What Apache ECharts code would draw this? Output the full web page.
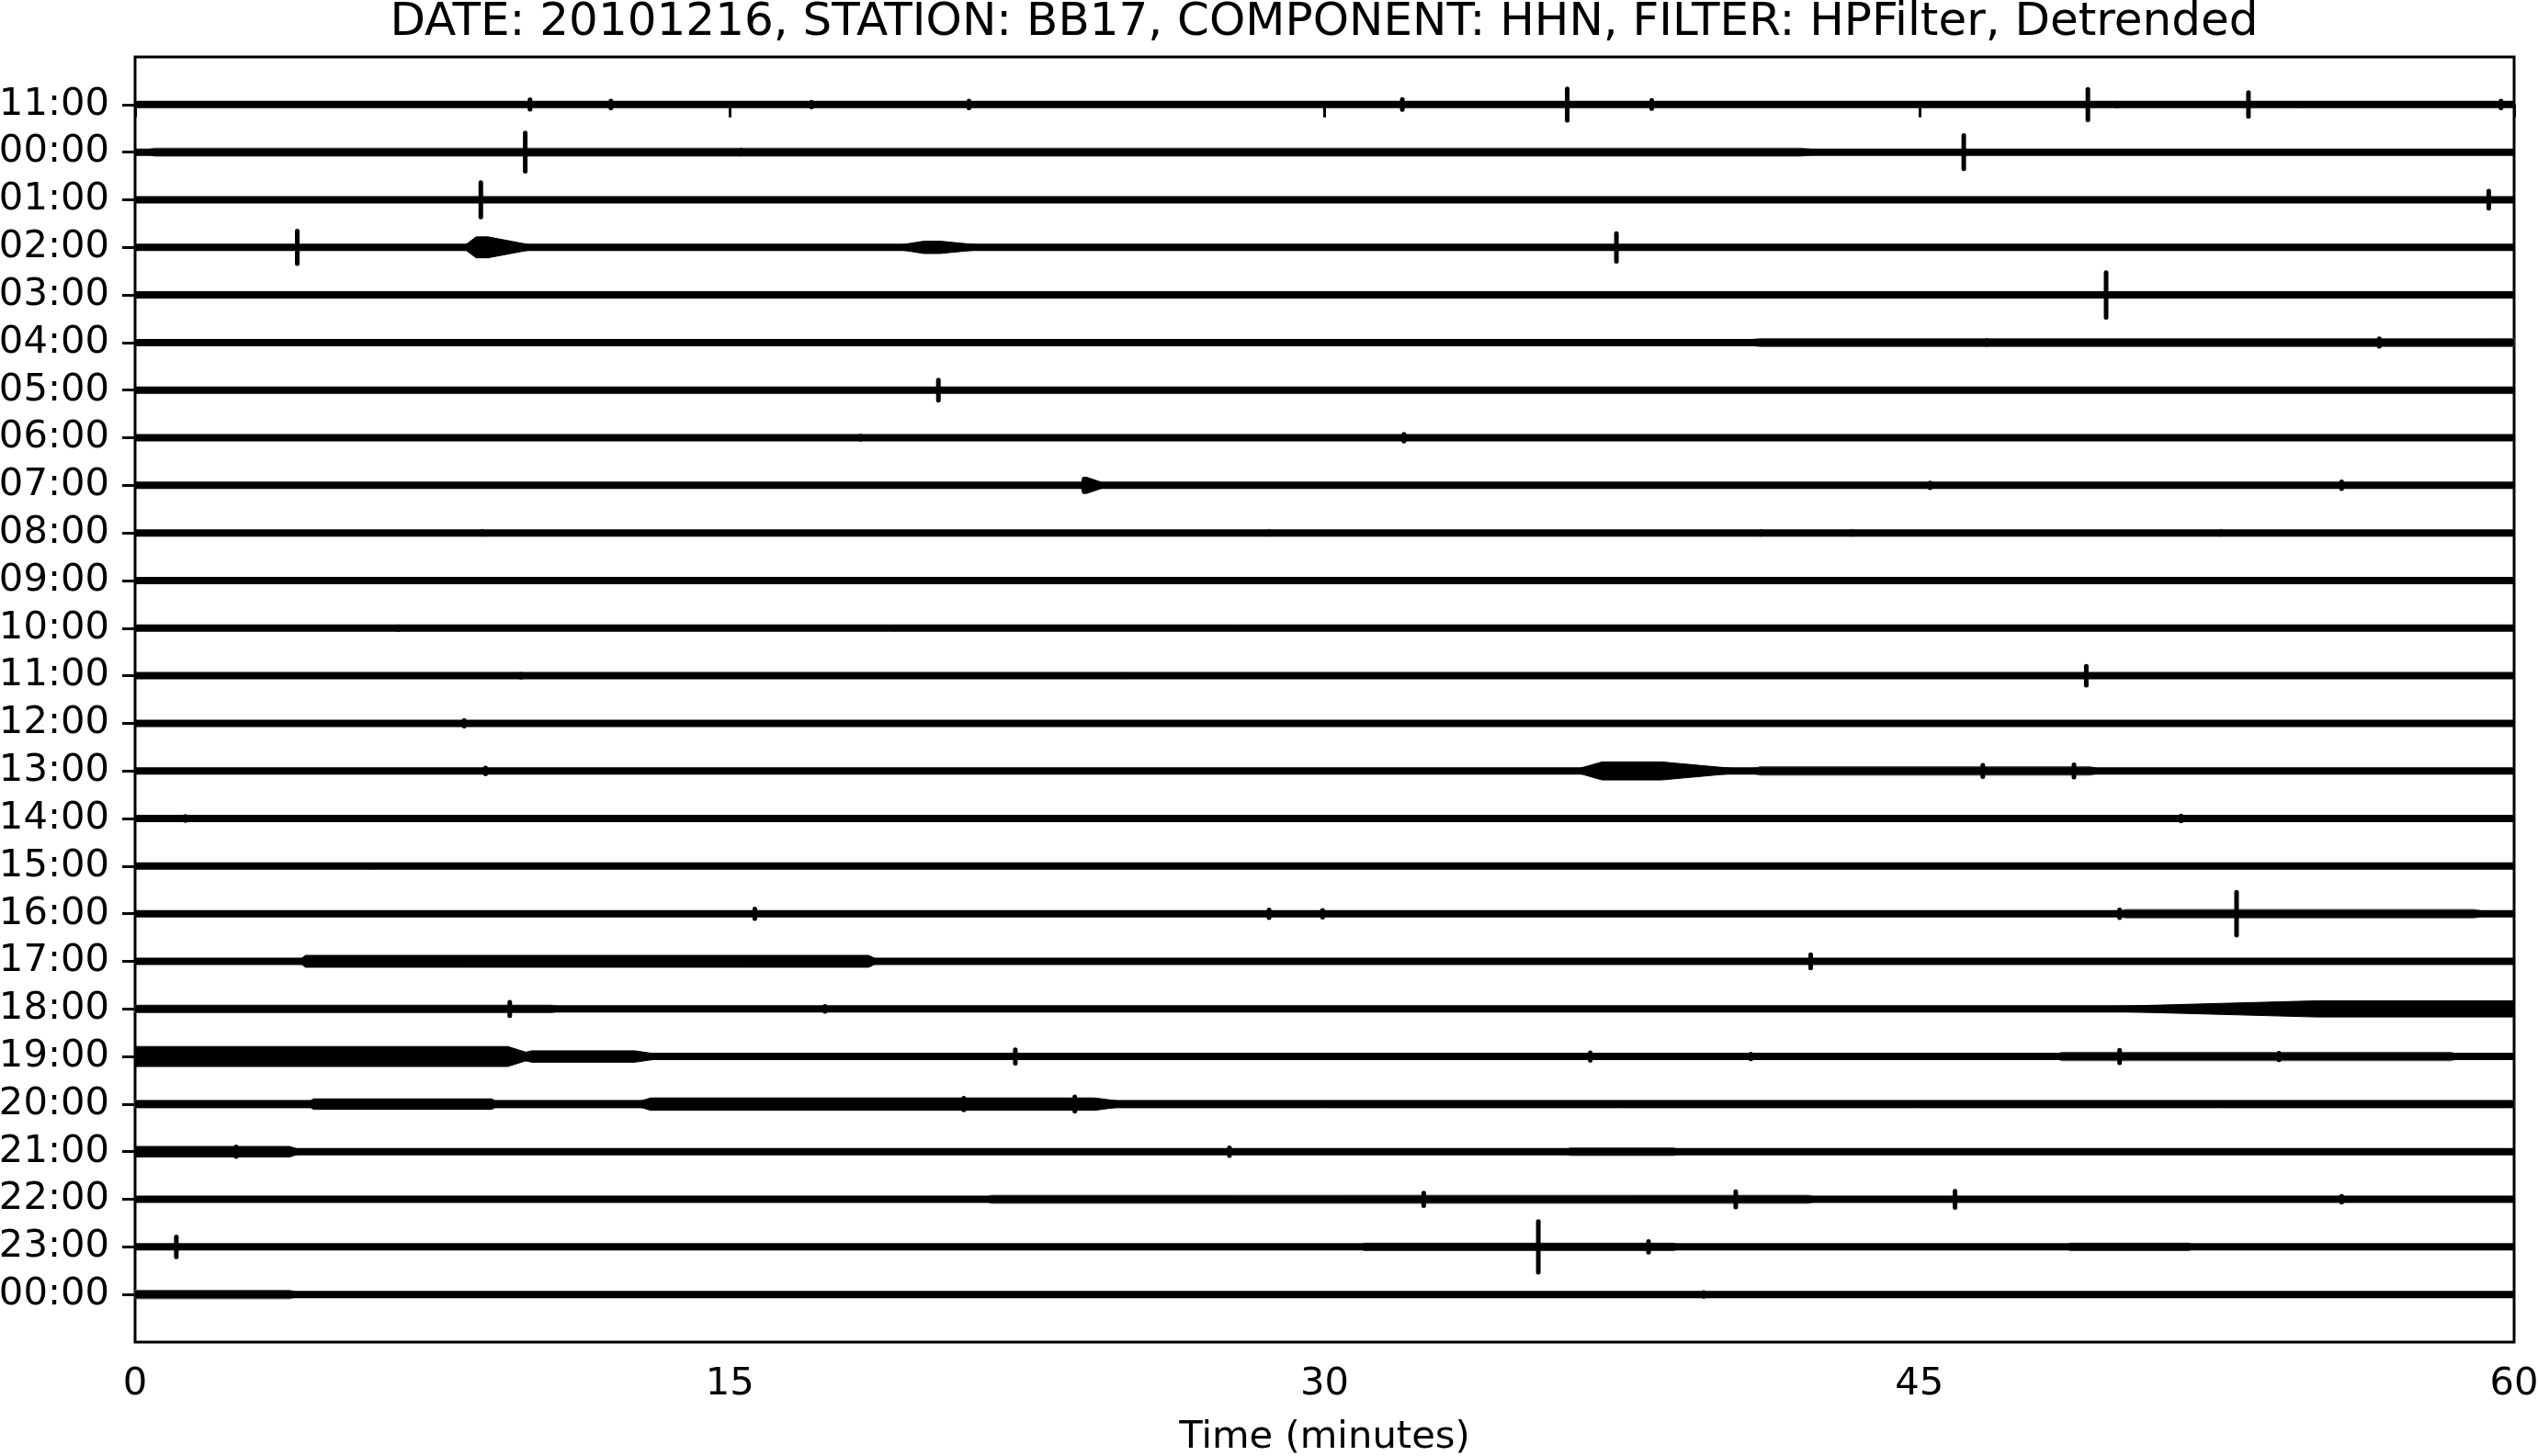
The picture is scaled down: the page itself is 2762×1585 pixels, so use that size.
<!DOCTYPE html>
<html>
<head>
<meta charset="utf-8">
<script src="https://cdn.jsdelivr.net/npm/echarts@6/dist/echarts.min.js"></script>
<style>
html,body{margin:0;padding:0;background:#fff;}
#chart{width:2762px;height:1585px;}
</style>
</head>
<body>
<div id="chart"></div>
<script>
// ---- data ----
const titleText = 'DATE: 20101216, STATION: BB17, COMPONENT: HHN, FILTER: HPFilter, Detrended';
const rowLabels = ['11:00','00:00','01:00','02:00','03:00','04:00','05:00','06:00','07:00','08:00','09:00','10:00','11:00','12:00','13:00','14:00','15:00','16:00','17:00','18:00','19:00','20:00','21:00','22:00','23:00','00:00'];
const xTicks = [0, 15, 30, 45, 60];
const xAxisName = 'Time (minutes)';
// spikes: [row, minute, half-amplitude (row units)]
const spikes = [
  [0,9.96,0.15],[0,12.0,0.12],[0,17.06,0.10],[0,21.03,0.12],[0,31.96,0.155],[0,36.12,0.38],[0,38.25,0.135],[0,49.25,0.37],[0,49.98,0.08],[0,53.3,0.30],[0,54.57,0.07],[0,59.67,0.12],
  [1,9.84,0.45],[1,46.12,0.40],[1,15.28,0.09],
  [2,8.72,0.41],[2,59.36,0.23],
  [3,4.09,0.39],[3,37.36,0.34],
  [4,49.71,0.52],
  [5,56.6,0.13],[5,46.7,0.09],
  [6,20.26,0.26],
  [7,32.0,0.12],[7,18.3,0.08],
  [8,45.27,0.10],[8,55.65,0.12],
  [9,8.76,0.08],[9,28.6,0.08],[9,41.0,0.08],[9,43.3,0.08],[9,52.6,0.08],
  [11,6.64,0.08],[11,19.14,0.07],[11,27.8,0.07],
  [12,49.21,0.25],[12,9.73,0.08],[12,24.9,0.07],
  [13,8.3,0.11],
  [14,46.6,0.17],[14,48.9,0.18],[14,8.84,0.11],
  [15,1.27,0.09],[15,51.6,0.10],
  [16,6.0,0.07],
  [17,15.63,0.15],[17,28.6,0.13],[17,29.95,0.12],[17,53.0,0.50],[17,50.05,0.13],
  [18,42.26,0.19],
  [19,9.45,0.19],[19,17.4,0.10],
  [20,22.2,0.19],[20,36.7,0.13],[20,50.05,0.18],[20,54.07,0.12],[20,40.75,0.10],
  [21,20.9,0.17],[21,23.7,0.20],
  [22,2.55,0.15],[22,27.6,0.13],
  [23,32.5,0.18],[23,40.37,0.21],[23,45.9,0.22],[23,55.65,0.11],
  [24,1.04,0.26],[24,35.39,0.58],[24,38.17,0.16],
  [25,39.56,0.09]
];
// noise envelopes: [row, start, rampEnd, decayStart, end, half-amplitude (row units)]
const bursts = [
  [1,0,0.5,42,43,0.085],
  [3,8.25,8.6,8.9,10.3,0.22],[3,18.9,19.9,20.3,21.9,0.13],
  [5,40,41,60,60,0.085],
  [8,23.85,23.9,24.0,24.6,0.17],
  [14,36.2,37.0,38.5,41.0,0.19],[14,40.5,41,49.3,49.8,0.09],
  [17,49.8,50.2,59,59.5,0.09],
  [18,4.1,4.3,18.5,18.8,0.125],
  [19,0,0,10.5,11,0.08],[19,47.5,55,60,60,0.17],
  [20,0,0,9.4,10.2,0.21],[20,9.4,10,12.6,13.6,0.12],[20,48.3,48.6,58.4,58.8,0.09],
  [21,0,0,60,60,0.08],[21,4.3,4.5,9.0,9.2,0.11],[21,12.5,13,24.2,25.4,0.13],
  [22,0,0,3.9,4.3,0.11],[22,35.9,36.2,38.8,39.1,0.08],
  [23,21.3,21.6,42.2,42.6,0.085],
  [24,30.8,31.0,38.8,39.1,0.08],[24,48.6,48.8,51.8,52.0,0.08],
  [25,0,0,3.9,4.3,0.09]
];

// ---- chart ----
const FONT = 'DejaVu Sans';
const rows = rowLabels.map((_, i) => i);
const chart = echarts.init(document.getElementById('chart'), null, {renderer: 'canvas'});

const option = {
  animation: false,
  backgroundColor: '#fff',
  title: {
    text: titleText,
    left: 1441, top: 0, padding: 0, textAlign: 'center',
    textStyle: {fontFamily: FONT, fontSize: 50, fontWeight: 'normal', color: '#000'}
  },
  grid: {left: 147, right: 26, top: 62, bottom: 124, show: true, borderColor: '#000', borderWidth: 3,
         backgroundColor: 'transparent', containLabel: false, outerBoundsMode: 'none'},
  xAxis: {
    type: 'value', min: xTicks[0], max: xTicks[xTicks.length - 1], interval: xTicks[1] - xTicks[0],
    axisLine: {show: false},
    axisTick: {show: true, length: 14, lineStyle: {color: '#000', width: 3}},
    axisLabel: {fontFamily: FONT, fontSize: 41.7, color: '#000', margin: 25},
    splitLine: {show: false},
    name: xAxisName, nameLocation: 'middle', nameGap: 83,
    nameTextStyle: {fontFamily: FONT, fontSize: 41.7, color: '#000'}
  },
  yAxis: {
    type: 'value', inverse: true, min: -1, max: rowLabels.length,
    axisLine: {show: false},
    axisTick: {show: true, length: 14, customValues: rows, lineStyle: {color: '#000', width: 3}},
    axisLabel: {customValues: rows, formatter: v => rowLabels[Math.round(v)] || '', fontFamily: FONT, fontSize: 41.7, color: '#000', margin: 28},
    splitLine: {show: false}
  },
  series: [
    {
      type: 'custom', name: 'trace', silent: true,
      data: rows.map(r => [0, r]),
      encode: {x: 0, y: 1},
      renderItem: (params, api) => {
        const r = api.value(1);
        const p0 = api.coord([xTicks[0], r]);
        const p1 = api.coord([xTicks[xTicks.length - 1], r]);
        return {type: 'line', shape: {x1: p0[0], y1: p0[1], x2: p1[0], y2: p1[1]}, style: {stroke: '#000', lineWidth: 8}};
      },
      z: 3
    },
    {
      type: 'custom', name: 'noise', silent: true,
      data: bursts,
      encode: {x: [1, 4], y: 0},
      renderItem: (params, api) => {
        const r = api.value(0), t0 = api.value(1), t1 = api.value(2), t2 = api.value(3), t3 = api.value(4), a = api.value(5);
        const pts = [
          api.coord([t0, r]), api.coord([t1, r - a]), api.coord([t2, r - a]),
          api.coord([t3, r]), api.coord([t2, r + a]), api.coord([t1, r + a])
        ];
        const weak = a < 0.1;
        return {type: 'polygon', shape: {points: pts},
                style: {fill: weak ? '#555' : '#000', stroke: weak ? '#555' : '#000', lineWidth: 1}};
      },
      z: 2
    },
    {
      type: 'custom', name: 'spikes', silent: true,
      data: spikes,
      encode: {x: 1, y: 0},
      renderItem: (params, api) => {
        const r = api.value(0), t = api.value(1), a = api.value(2);
        const top = api.coord([t, r - a]);
        const bot = api.coord([t, r + a]);
        const c = 2.5;
        let y1 = Math.min(top[1], bot[1]) + c, y2 = Math.max(top[1], bot[1]) - c;
        if (y2 < y1) { const m = (y1 + y2) / 2; y1 = m; y2 = m; }
        return {type: 'line', shape: {x1: top[0], y1: y1, x2: top[0], y2: y2}, style: {stroke: '#000', lineWidth: 5, lineCap: 'round'}};
      },
      z: 4
    }
  ]
};
chart.setOption(option);
</script>
</body>
</html>
